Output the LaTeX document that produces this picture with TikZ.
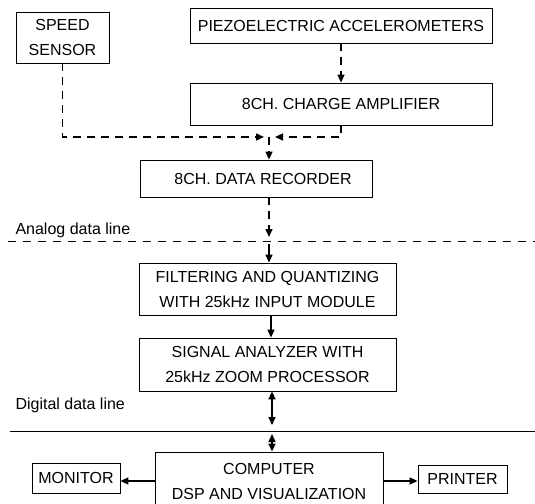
\documentclass[tikz,border=0pt]{standalone}
\usepackage{fontspec}
\setmainfont{Liberation Sans}
\usetikzlibrary{arrows.meta}
\begin{document}
\begin{tikzpicture}[x=1pt,y=-1pt,
  txt/.style={font=\fontsize{16}{25}\selectfont},
  blk/.style={draw, line width=0.8pt, align=center, inner sep=0pt, txt},
  conn/.style={line width=1.5pt, -{Triangle[length=8pt,width=7pt]}},
  biconn/.style={line width=1.5pt, {Triangle[length=8pt,width=7pt]}-{Triangle[length=8pt,width=7pt]}},
  dsh/.style={dash pattern=on 8pt off 6pt},
  sepline/.style={line width=0.8pt}]
\useasboundingbox (0,0) rectangle (535,503);
\fill[white] (0,0) rectangle (535,503);

\node[blk, minimum width=93pt, minimum height=51pt] (speed) at (62.5,37.5) {SPEED\\SENSOR};
\node[blk, minimum width=302pt, minimum height=35pt] (piezo) at (341,25.5) {PIEZOELECTRIC ACCELEROMETERS};
\node[blk, minimum width=302pt, minimum height=42pt] (charge) at (341,104) {8CH. CHARGE AMPLIFIER};
\node[blk, minimum width=232pt, minimum height=37pt] (rec) at (256,178.5) {\hspace*{14pt}8CH. DATA RECORDER};
\node[blk, minimum width=257pt, minimum height=52pt] (filt) at (267.5,289) {FILTERING AND QUANTIZING\\WITH 25kHz INPUT MODULE};
\node[blk, minimum width=257pt, minimum height=53pt] (sa) at (267.5,364.5) {SIGNAL ANALYZER WITH\\25kHz ZOOM PROCESSOR};
\node[blk, minimum width=228pt, minimum height=58pt] (comp) at (269,481) {COMPUTER\\DSP AND VISUALIZATION};
\node[blk, minimum width=88pt, minimum height=30pt] (mon) at (76,478) {MONITOR};
\node[blk, minimum width=89pt, minimum height=28pt] (prn) at (462.5,479) {PRINTER};

\node[txt, anchor=west] (alab) at (12,230) {Analog data line};
\node[txt, anchor=west] (dlab) at (12,405) {Digital data line};

\draw[sepline, dash pattern=on 8pt off 7pt] (8,241) -- (535,241);
\draw[sepline] (10,431) -- (535,431);

% top connectors
\coordinate (jl) at (264,137);
\coordinate (jr) at (275,137);
\coordinate (jc) at (269,137);
\draw[conn,dsh] (piezo.south) -- (charge.north);
\draw[conn,dsh] (speed.south) |- (jl);
\draw[conn,dsh] (charge.south) |- (jr);
\draw[conn,dsh] (jc) -- (jc |- rec.north);

% recorder to filtering across analog line
\coordinate (a1) at (269,237);
\coordinate (a2) at (269,244);
\draw[conn,dsh] (rec.south -| a1) -- (a1);
\draw[conn] (a2) -- (a2 |- filt.north);

% filtering to signal analyzer
\coordinate (fx) at (271,300);
\draw[conn] (filt.south -| fx) -- (sa.north -| fx);

% signal analyzer to computer across digital line
\coordinate (d1) at (272,425);
\coordinate (d2) at (272,434);
\draw[biconn] (sa.south -| d1) -- (d1);
\draw[biconn] (d2) -- (comp.north -| d2);

% computer to monitor / printer
\coordinate (ya) at (0,481);
\draw[conn] (comp.west |- ya) -- (mon.east |- ya);
\draw[conn] (comp.east |- ya) -- (prn.west |- ya);
\end{tikzpicture}
\end{document}
